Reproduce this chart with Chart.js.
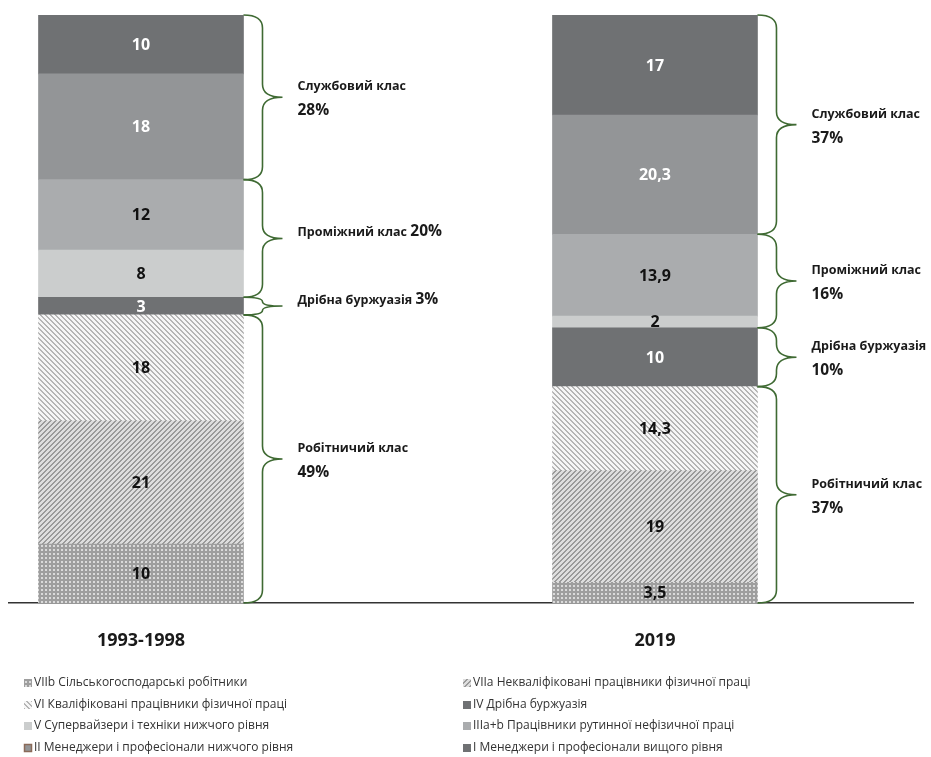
<!DOCTYPE html>
<html>
<head>
<meta charset="utf-8">
<script src="https://cdn.jsdelivr.net/npm/chart.js@4.4.1/dist/chart.umd.min.js"></script>
<style>
  html, body { margin: 0; padding: 0; background: #fff; }
  #wrap { width: 931px; height: 757px; }
</style>
</head>
<body>
<div id="wrap"><canvas id="chart" width="931" height="757"></canvas></div>
<script>
// categories and series (bottom of the stack first)
const categories = ["1993-1998", "2019"];
const classNames = [
  "VIIb Сільськогосподарські робітники",
  "VIIa Некваліфіковані працівники фізичної праці",
  "VI Кваліфіковані працівники фізичної праці",
  "IV Дрібна буржуазія",
  "V Супервайзери і техніки нижчого рівня",
  "IIIa+b Працівники рутинної нефізичної праці",
  "II Менеджери і професіонали нижчого рівня",
  "I Менеджери і професіонали вищого рівня"
];
const viibValues = [10, 3.5];
const viiaValues = [21, 19];
const viValues = [18, 14.3];
const ivValues = [3, 10];
const vValues = [8, 2];
const iiiValues = [12, 13.9];
const iiValues = [18, 20.3];
const iValues = [10, 17];

// class groups shown with braces (indexes into the series list)
const groupNames = ["Робітничий клас", "Дрібна буржуазія", "Проміжний клас", "Службовий клас"];
const groupMembers = [[0, 1, 2], [3], [4, 5], [6, 7]];

const seriesValues = [viibValues, viiaValues, viValues, ivValues, vValues, iiiValues, iiValues, iValues];

// percent on the same line as the name? [category][group]
const inlineLabel = [[false, true, true, false], [false, false, false, false]];

const FONT = '"Open Sans", "Noto Sans", sans-serif';

function makePattern(kind) {
  const size = kind === 'dots' ? 4 : 5;
  const c = document.createElement('canvas');
  c.width = size; c.height = size;
  const g = c.getContext('2d');
  for (let x = 0; x < size; x++) {
    for (let y = 0; y < size; y++) {
      let col;
      if (kind === 'back') {
        col = (((x - y) % size) + size) % size < 2 ? '#b5b5b5' : '#f6f6f6';
      } else if (kind === 'fwd') {
        col = (x + y) % size < 2 ? '#9a9a9a' : '#dedede';
      } else {
        col = (x >= 1 && x <= 2 && y >= 1 && y <= 2) ? '#dadada' : '#9e9e9e';
      }
      g.fillStyle = col;
      g.fillRect(x, y, 1, 1);
    }
  }
  return g.createPattern(c, 'repeat');
}

const fills = [
  makePattern('dots'), makePattern('fwd'), makePattern('back'),
  '#6f7173', '#cbcdcd', '#aaacae', '#939597', '#6f7173'
];
const valueColors = ['#111', '#111', '#111', '#fff', '#111', '#111', '#fff', '#fff'];

const datasets = seriesValues.map((vals, k) => ({
  label: classNames[k],
  data: vals.map((v, i) => ({ x: i, y: v })),
  backgroundColor: fills[k],
  borderWidth: 0,
  barThickness: 205
}));

function fmt(v) {
  return String(v).replace('.', ',');
}

// numbers inside the segments
const valueLabels = {
  id: 'valueLabels',
  afterDatasetsDraw(chart) {
    const ctx = chart.ctx;
    ctx.save();
    ctx.font = 'bold 16px ' + FONT;
    ctx.textAlign = 'center';
    ctx.textBaseline = 'middle';
    chart.data.datasets.forEach((ds, k) => {
      chart.getDatasetMeta(k).data.forEach((bar, i) => {
        ctx.fillStyle = valueColors[k];
        ctx.fillText(fmt(seriesValues[k][i]), bar.x, (bar.y + bar.base) / 2 + 1);
      });
    });
    ctx.restore();
  }
};

// curly braces with class names
const braces = {
  id: 'braces',
  afterDatasetsDraw(chart) {
    const ctx = chart.ctx;
    const ys = chart.scales.y;
    categories.forEach((cat, i) => {
      const bar = chart.getDatasetMeta(0).data[i];
      const x0 = bar.x + bar.width / 2;
      const xm = x0 + 19;
      const xt = x0 + 39;
      groupMembers.forEach((members, g) => {
        let lo = 0;
        for (let k = 0; k < members[0]; k++) lo += seriesValues[k][i];
        let sum = 0;
        members.forEach(k => { sum += seriesValues[k][i]; });
        const yTop = ys.getPixelForValue(lo + sum);
        const yBot = ys.getPixelForValue(lo);
        const ym = (yTop + yBot) / 2;
        const r = Math.min(13, (yBot - yTop) / 4);

        ctx.save();
        ctx.strokeStyle = '#3f6a33';
        ctx.lineWidth = 1.6;
        ctx.beginPath();
        ctx.moveTo(x0, yTop);
        ctx.quadraticCurveTo(xm, yTop, xm, yTop + r);
        ctx.lineTo(xm, ym - r);
        ctx.quadraticCurveTo(xm, ym, xt, ym);
        ctx.quadraticCurveTo(xm, ym, xm, ym + r);
        ctx.lineTo(xm, yBot - r);
        ctx.quadraticCurveTo(xm, yBot, x0, yBot);
        ctx.stroke();

        const pct = Math.round(sum) + '%';
        const tx = x0 + 54;
        ctx.fillStyle = '#1a1a1a';
        ctx.textAlign = 'left';
        ctx.textBaseline = 'alphabetic';
        if (inlineLabel[i][g]) {
          ctx.font = 'bold 12.5px ' + FONT;
          const w = ctx.measureText(groupNames[g] + ' ').width;
          ctx.fillText(groupNames[g] + ' ', tx, ym - 2);
          ctx.font = 'bold 15.5px ' + FONT;
          ctx.fillText(pct, tx + w, ym - 2);
        } else {
          ctx.font = 'bold 12.5px ' + FONT;
          ctx.fillText(groupNames[g], tx, ym - 7);
          ctx.font = 'bold 15.5px ' + FONT;
          ctx.fillText(pct, tx, ym + 18);
        }
        ctx.restore();
      });
    });
  }
};

// two-column legend under the chart
const gridLegend = {
  id: 'gridLegend',
  afterDraw(chart) {
    const ctx = chart.ctx;
    const colX = [24, 463];
    const rowY = [683, 705, 726, 748];
    ctx.save();
    ctx.font = '12px ' + FONT;
    ctx.textBaseline = 'middle';
    ctx.textAlign = 'left';
    chart.data.datasets.forEach((ds, k) => {
      const x = colX[k % 2];
      const y = rowY[Math.floor(k / 2)];
      ctx.fillStyle = ds.backgroundColor;
      ctx.fillRect(x, y - 4, 8, 8);
      if (k === 6) {
        ctx.strokeStyle = '#8a6a58';
        ctx.lineWidth = 1.5;
        ctx.strokeRect(x + 0.5, y - 3.5, 7, 7);
      }
      ctx.fillStyle = '#333';
      ctx.fillText(ds.label, x + 10, y);
    });
    ctx.restore();
  }
};

new Chart(document.getElementById('chart'), {
  type: 'bar',
  data: { datasets: datasets },
  plugins: [valueLabels, braces, gridLegend],
  options: {
    responsive: false,
    animation: false,
    devicePixelRatio: 1,
    layout: { padding: { left: 9, right: 18, top: 15, bottom: 0 } },
    plugins: {
      legend: { display: false },
      tooltip: { enabled: false }
    },
    scales: {
      x: {
        type: 'linear',
        stacked: true,
        offset: false,
        min: -0.2568,
        max: 1.502,
        grid: { display: false },
        border: { display: true, color: '#333', width: 1.5 },
        afterBuildTicks: axis => { axis.ticks = categories.map((c, i) => ({ value: i })); },
        afterFit: axis => { axis.height = 154; },
        ticks: {
          autoSkip: false,
          maxRotation: 0,
          padding: 19,
          color: '#1a1a1a',
          font: { family: FONT, size: 18, weight: 'bold' },
          callback: v => categories[v]
        }
      },
      y: {
        stacked: true,
        min: 0,
        max: 100,
        display: false
      }
    }
  }
});
</script>
</body>
</html>
